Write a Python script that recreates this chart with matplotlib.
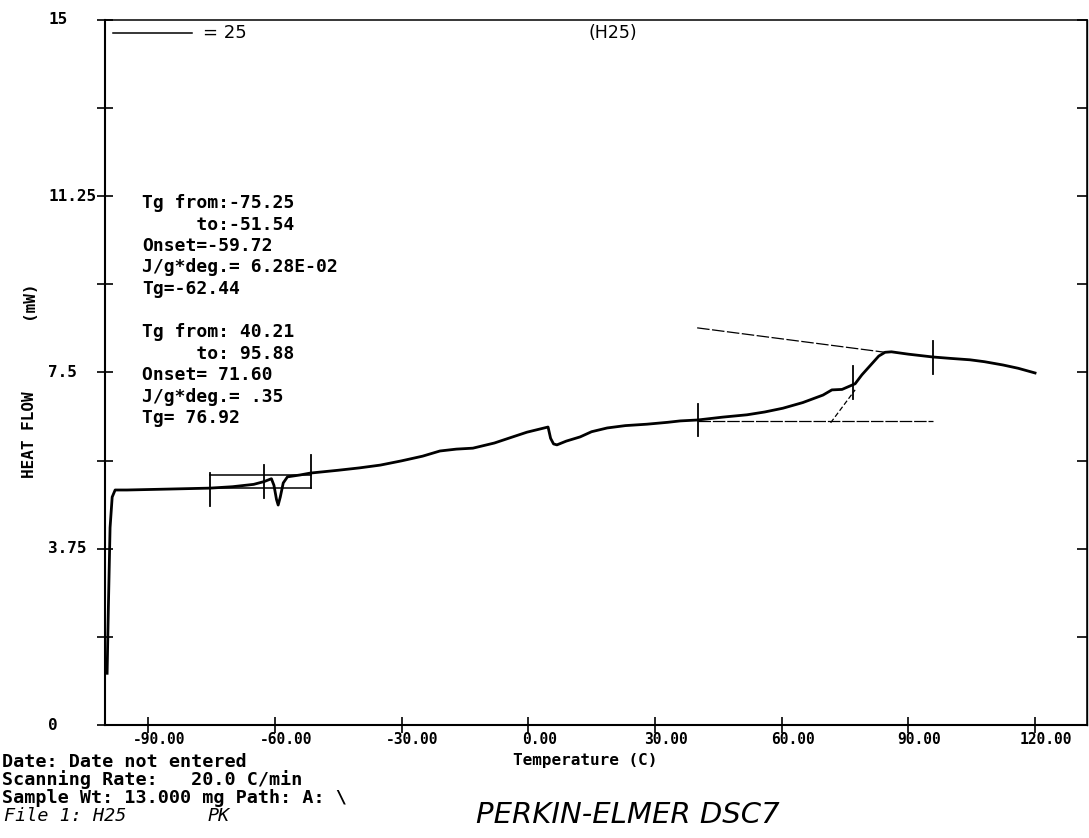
import matplotlib
matplotlib.use("Agg")
import matplotlib.pyplot as plt
from matplotlib.ticker import FixedLocator, NullFormatter
from matplotlib.transforms import offset_copy

# DSC trace (H25), temperature in C, heat flow in mW
temp = [-99.7, -99.4, -99.0, -98.5, -97.8, -95.0, -85.0, -75.3, -70.0, -65.0,
        -62.5, -60.8, -60.2, -59.6, -59.2, -58.7, -58.0, -57.0, -54.0, -51.6,
        -45.0, -40.0, -35.0, -30.0, -25.0, -20.9, -17.0, -13.1, -8.0, -4.0,
        -0.3, 4.7, 5.3, 6.0, 6.8, 9.0, 12.3, 15.0, 18.7, 23.0,
        28.1, 33.0, 36.0, 40.2, 46.0, 51.8, 56.0, 60.3, 65.0, 69.8,
        71.9, 74.3, 77.4, 79.0, 81.0, 83.0, 84.5, 86.0, 90.0, 95.8,
        100.0, 104.6, 108.0, 112.4, 116.0, 120.0]
heat_flow = [1.1, 2.5, 4.2, 4.85, 5.0, 5.0, 5.02, 5.04, 5.07, 5.12,
             5.18, 5.24, 5.1, 4.8, 4.68, 4.85, 5.15, 5.28, 5.32, 5.36,
             5.42, 5.47, 5.53, 5.62, 5.72, 5.83, 5.87, 5.89, 6.0, 6.12,
             6.23, 6.34, 6.1, 5.98, 5.96, 6.04, 6.13, 6.24, 6.32, 6.37,
             6.40, 6.44, 6.47, 6.49, 6.55, 6.60, 6.66, 6.74, 6.86, 7.02,
             7.13, 7.14, 7.26, 7.45, 7.65, 7.85, 7.93, 7.94, 7.89, 7.83,
             7.80, 7.77, 7.73, 7.66, 7.59, 7.49]

x_ticks = [-90, -60, -30, 0, 30, 60, 90, 120]
x_tick_labels = ['-90.00', '-60.00', '-30.00', '0.00', '30.00', '60.00', '90.00', '120.00']
y_ticks = [0, 3.75, 7.5, 11.25, 15]
y_tick_labels = ['0', '3.75', '7.5', '11.25', '15']
y_minor = [1.875, 5.625, 9.375, 13.125]

# Tg analysis 1 (low temperature)
low_marks_t = [-75.25, -62.44, -51.54]
low_marks_h = [5.02, 5.18, 5.39]
low_base_t = [-75.25, -51.54]
low_base_before = [5.04, 5.04]
low_base_after = [5.32, 5.32]

# Tg analysis 2 (high temperature)
high_marks_t = [40.21, 76.92, 95.88]
high_marks_h = [6.49, 7.29, 7.81]
high_before_t = [40.21, 95.88]
high_before_h = [6.47, 6.47]
high_after_t = [40.0, 84.5]
high_after_h = [8.45, 7.93]
onset_t = [71.6, 77.4]
onset_h = [6.43, 7.13]

block1 = ["Tg from:-75.25", "     to:-51.54", "Onset=-59.72",
          "J/g*deg.= 6.28E-02", "Tg=-62.44"]
block2 = ["Tg from: 40.21", "     to: 95.88", "Onset= 71.60",
          "J/g*deg.= .35", "Tg= 76.92"]
footer = ["Date: Date not entered", "Scanning Rate:   20.0 C/min",
          "Sample Wt: 13.000 mg Path: A: \\"]

mono = 'DejaVu Sans Mono'
W, H = 1089, 838


def fx(px):
    return px / W


def fy(py):
    return 1 - py / H


fig = plt.figure(figsize=(W / 100, H / 100), dpi=100)
ax = fig.add_axes([fx(105), fy(725), (1087 - 105) / W, (725 - 20) / H])

ax.plot(temp, heat_flow, color='black', lw=2.0, solid_joinstyle='round')

# tangent / baseline construction lines
ax.plot(low_base_t, low_base_before, color='black', lw=1.1)
ax.plot(low_base_t, low_base_after, color='black', lw=1.1)
ax.plot(high_before_t, high_before_h, color='black', lw=0.9, ls=(0, (10, 1.5)))
ax.plot(high_after_t, high_after_h, color='black', lw=0.9, ls=(0, (10, 2)))
ax.plot(onset_t, onset_h, color='black', lw=0.9, ls=(0, (4, 2)))
for t, h in zip(low_marks_t, low_marks_h):
    ax.plot([t, t], [h - 0.35, h + 0.35], color='black', lw=1.3)
for t, h in zip(high_marks_t, high_marks_h):
    ax.plot([t, t], [h - 0.35, h + 0.35], color='black', lw=1.3)

ax.set_xlim(-100.2, 132.3)
ax.set_ylim(0, 15)

ax.xaxis.set_major_locator(FixedLocator(x_ticks))
ax.xaxis.set_major_formatter(NullFormatter())
ax.yaxis.set_major_locator(FixedLocator(y_ticks))
ax.yaxis.set_minor_locator(FixedLocator(y_minor))
ax.yaxis.set_major_formatter(NullFormatter())
ax.tick_params(axis='x', direction='inout', length=12, width=1.2)
ax.tick_params(axis='y', which='both', direction='inout', length=12, width=1.2)

# plotter style tick labels: x labels sit a little right of the tick,
# y labels share a common left edge
xlab_tr = offset_copy(ax.get_xaxis_transform(), fig=fig, x=11, y=0, units='dots')
for t, lab in zip(x_ticks, x_tick_labels):
    ax.text(t, -0.021, lab, transform=xlab_tr, ha='center', va='center',
            fontfamily=mono, fontweight='bold', fontsize=10.5)
for v, lab in zip(y_ticks, y_tick_labels):
    ax.text(-0.058, v, lab, transform=ax.get_yaxis_transform(), ha='left', va='center',
            fontfamily=mono, fontweight='bold', fontsize=11.5)

right = ax.secondary_yaxis('right')
right.yaxis.set_major_locator(FixedLocator(y_ticks + y_minor))
right.tick_params(direction='in', length=7, width=1.2, labelright=False)
right.spines['right'].set_linewidth(1.0)

for side in ['left', 'bottom']:
    ax.spines[side].set_linewidth(1.5)
ax.spines['top'].set_linewidth(1.1)
ax.spines['right'].set_linewidth(1.1)

# scale mark and run name
ax.plot([0.008, 0.089], [0.982, 0.982], color='black', lw=1.1, transform=ax.transAxes)
ax.text(0.100, 0.982, '= 25', transform=ax.transAxes, fontsize=13, va='center')
ax.text(0.517, 0.982, '(H25)', transform=ax.transAxes, fontsize=12.5, va='center', ha='center')

for i, line in enumerate(block1):
    fig.text(fx(142), fy(203 + 21.5 * i), line, fontsize=13,
             fontfamily=mono, fontweight='bold', va='center')
for i, line in enumerate(block2):
    fig.text(fx(142), fy(332 + 21.5 * i), line, fontsize=13,
             fontfamily=mono, fontweight='bold', va='center')

# axis titles
fig.text(fx(29), fy(435), 'HEAT FLOW', rotation=90, ha='center', va='center',
         fontfamily=mono, fontweight='bold', fontsize=11.5)
fig.text(fx(29), fy(300), '(mW)', rotation=90, ha='center', va='center',
         fontfamily=mono, fontweight='bold', fontsize=11.5)
fig.text(fx(585), fy(760), 'Temperature (C)', ha='center', va='center',
         fontfamily=mono, fontweight='bold', fontsize=11.5)

for i, line in enumerate(footer):
    fig.text(fx(2), fy(762 + 18 * i), line, ha='left', va='center',
             fontfamily=mono, fontweight='bold', fontsize=13.2)
fig.text(fx(4), fy(816), 'File 1: H25', ha='left', va='center',
         fontfamily=mono, style='italic', fontsize=13.2)
fig.text(fx(208), fy(816), 'PK', ha='left', va='center',
         fontfamily=mono, style='italic', fontsize=13.2)
fig.text(fx(628), fy(815), 'PERKIN-ELMER DSC7', ha='center', va='center',
         style='italic', fontsize=21)

fig.savefig('out.png', dpi=100)
